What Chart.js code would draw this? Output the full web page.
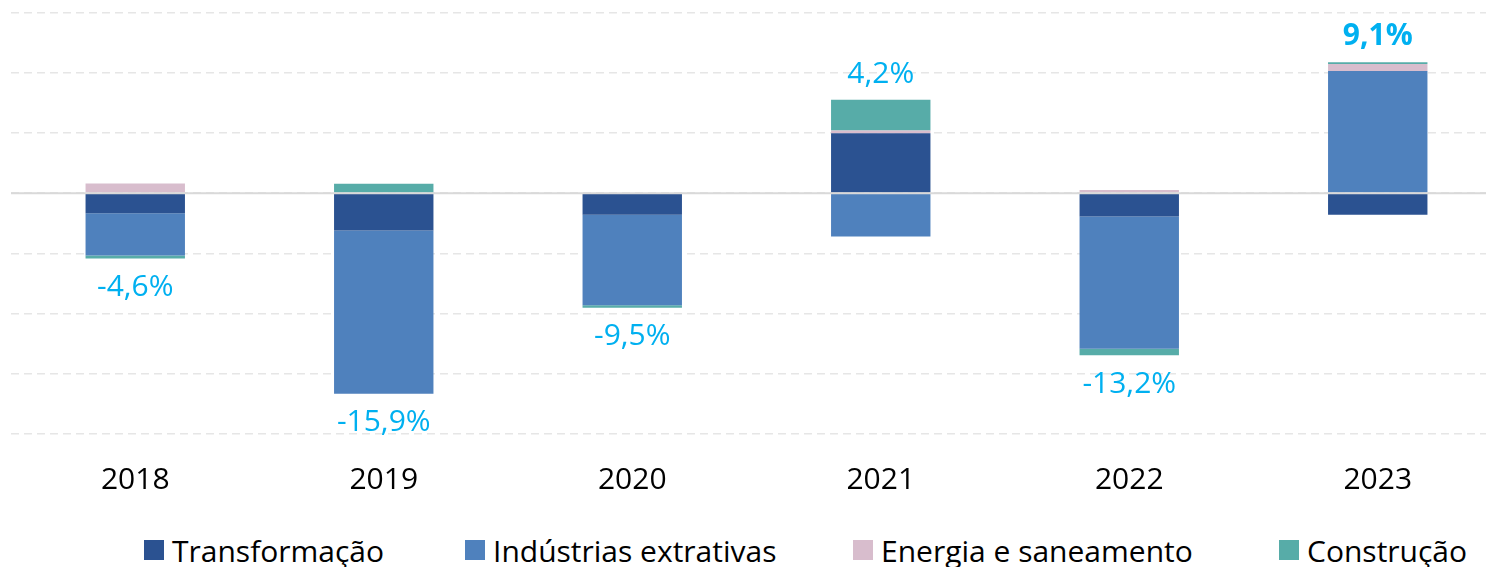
<!DOCTYPE html>
<html>
<head>
<meta charset="utf-8">
<script src="https://cdn.jsdelivr.net/npm/chart.js@4"></script>
<style>
  html, body { margin: 0; padding: 0; background: #fff; overflow: hidden; }
  #wrap { position: relative; width: 1486px; height: 567px; overflow: hidden; }
  #chart { position: absolute; left: 0; top: 0; }
  .leg { position: absolute; top: 532px; height: 36px; display: flex; align-items: center;
         font: 30px 'Open Sans', 'Segoe UI', sans-serif; color: #000; white-space: nowrap; }
  .leg i { display: inline-block; width: 20px; height: 20px; margin-right: 8px; }
</style>
</head>
<body>
<div id="wrap">
  <canvas id="chart" width="1502" height="526"></canvas>
  <div id="legend"></div>
</div>
<script>
// ── data ────────────────────────────────────────────────
const YEARS = ["2018", "2019", "2020", "2021", "2022", "2023"];
const TRANSFORMACAO = [-1.68, -3.10, -1.80, 4.98, -1.93, -1.79];
const EXTRATIVAS    = [-3.50, -13.56, -7.50, -3.60, -11.00, 10.15];
const ENERGIA       = [0.80, 0.00, 0.00, 0.22, 0.27, 0.58];
const CONSTRUCAO    = [-0.25, 0.77, -0.22, 2.56, -0.53, 0.14];
const TOTALS        = [-4.6, -15.9, -9.5, 4.2, -13.2, 9.1];
const TOTAL_LABELS  = ["-4,6%", "-15,9%", "-9,5%", "4,2%", "-13,2%", "9,1%"];
const SERIES_NAMES  = ["Transformação", "Indústrias extrativas", "Energia e saneamento", "Construção"];

// ── styles ──────────────────────────────────────────────
const COLORS = ["#2B5291", "#4F81BD", "#D8BDCD", "#57ACA8"];
const LABEL_COLOR = "#00B0F0";
const FONT = "'Open Sans', 'Segoe UI', sans-serif";
const LEGEND_LEFT = [144, 465, 853, 1279];

Chart.defaults.font.family = FONT;

const datasets = [TRANSFORMACAO, EXTRATIVAS, ENERGIA, CONSTRUCAO].map((data, i) => ({
  label: SERIES_NAMES[i],
  data,
  backgroundColor: COLORS[i],
  borderWidth: 0,
  categoryPercentage: 1,
  barPercentage: 0.4,
}));

// zero line on top of the bars + total labels at the stack ends
const overlay = {
  id: "overlay",
  afterDatasetsDraw(chart) {
    const { ctx, chartArea, scales } = chart;
    const y0 = scales.y.getPixelForValue(0);
    ctx.save();
    ctx.strokeStyle = "#D9D9D9";
    ctx.lineWidth = 2;
    ctx.beginPath();
    ctx.moveTo(chartArea.left, y0);
    ctx.lineTo(chartArea.right, y0);
    ctx.stroke();

    ctx.textAlign = "center";
    ctx.textBaseline = "middle";
    ctx.fillStyle = LABEL_COLOR;
    YEARS.forEach((yr, i) => {
      const vals = datasets.map((d) => d.data[i]);
      const neg = vals.filter((v) => v < 0).reduce((a, b) => a + b, 0);
      const pos = vals.filter((v) => v > 0).reduce((a, b) => a + b, 0);
      const x = scales.x.getPixelForValue(i);
      let y;
      if (TOTALS[i] < 0) y = scales.y.getPixelForValue(neg) + 29;
      else y = scales.y.getPixelForValue(pos) - 25.5;
      const last = i === YEARS.length - 1;
      ctx.font = (last ? "bold " : "") + "30px " + FONT;
      ctx.fillText(TOTAL_LABELS[i], x, y);
    });
    ctx.restore();
  },
};

new Chart(document.getElementById("chart"), {
  type: "bar",
  data: { labels: YEARS, datasets },
  options: {
    responsive: false,
    animation: false,
    layout: { padding: { left: 11, right: 0, top: 12.5, bottom: 0 } },
    plugins: { legend: { display: false }, tooltip: { enabled: false } },
    scales: {
      x: {
        stacked: true,
        grid: { display: false, drawTicks: false },
        border: { display: false },
        ticks: { color: "#000", font: { size: 30 }, padding: 28 },
      },
      y: {
        stacked: true,
        min: -20,
        max: 15,
        ticks: { display: false, stepSize: 5 },
        grid: { color: "#E6E6E6", lineWidth: 1.5, drawTicks: false },
        border: { display: false, dash: [8, 5] },
      },
    },
  },
  plugins: [overlay],
});

// legend
const legend = document.getElementById("legend");
SERIES_NAMES.forEach((name, i) => {
  const item = document.createElement("div");
  item.className = "leg";
  item.style.left = LEGEND_LEFT[i] + "px";
  item.innerHTML = `<i style="background:${COLORS[i]}"></i>${name}`;
  legend.appendChild(item);
});
</script>
</body>
</html>
